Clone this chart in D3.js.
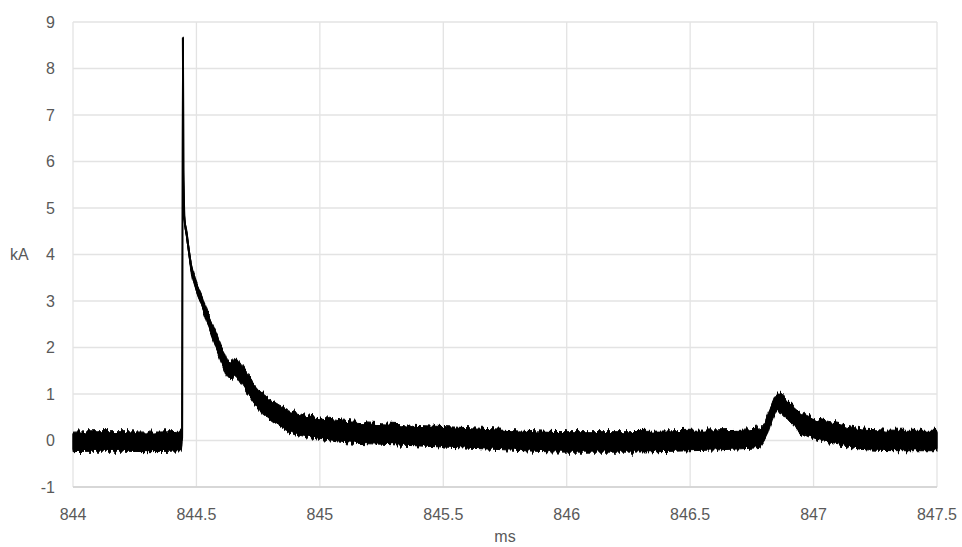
<!DOCTYPE html>
<html>
<head>
<meta charset="utf-8">
<script src="https://cdn.jsdelivr.net/npm/d3@7"></script>
<style>
    body { margin: 0; background: #ffffff; }
    .tick-label { font-family: "Liberation Sans", Arial, sans-serif; font-size: 16px; fill: #595959; }
    .axis-title { font-family: "Liberation Sans", Arial, sans-serif; font-size: 16px; fill: #595959; }
    .grid line { stroke: #e3e3e3; stroke-width: 1.3; }
    .band { fill: #000000; stroke: #000000; stroke-width: 1; stroke-linejoin: round; }
    .core { fill: #000000; stroke: #000000; stroke-width: 1; }
    .trace { fill: none; stroke: #000000; stroke-width: 2; }
</style>
</head>
<body>
<div id="chart"></div>
<script>
// Size of the SVG element
let width = 962;
let height = 547;

let margin = { top: 22, right: 25, bottom: 60, left: 73 };

// Time in ms
let timeMs = [
    844.000, 844.100, 844.200, 844.300, 844.400, 844.438, 844.442,
    844.445, 844.448, 844.452, 844.460, 844.481, 844.500, 844.521,
    844.548, 844.570, 844.589, 844.610, 844.629, 844.645, 844.656,
    844.675, 844.697, 844.725, 844.751, 844.785, 844.818, 844.850,
    844.886, 844.953, 845.020, 845.088, 845.250, 845.500, 845.750,
    846.000, 846.250, 846.500, 846.700, 846.780, 846.805, 846.830,
    846.851, 846.870, 846.891, 846.920, 846.945, 846.980, 847.013,
    847.060, 847.107, 847.160, 847.215, 847.350, 847.500
];

// Middle of the noisy trace, kA
let currentKA = [
    -0.03, -0.02, -0.02, -0.03, -0.02, -0.01, 0.05,
    8.66, 5.60, 4.75, 4.45, 3.67, 3.30, 3.02,
    2.59, 2.28, 2.02, 1.74, 1.52, 1.50, 1.60,
    1.48, 1.30, 1.06, 0.88, 0.72, 0.59, 0.49,
    0.40, 0.30, 0.24, 0.19, 0.14, 0.08, 0.02,
    -0.03, -0.03, 0.00, 0.03, 0.06, 0.22, 0.60,
    0.82, 0.80, 0.68, 0.52, 0.40, 0.30, 0.23,
    0.17, 0.12, 0.06, 0.02, 0.00, 0.00
];

// Half thickness of the noise band, kA
let noiseKA = [
    0.21, 0.21, 0.21, 0.21, 0.21, 0.21, 0.02,
    0.00, 0.01, 0.07, 0.08, 0.10, 0.11, 0.12,
    0.13, 0.15, 0.16, 0.18, 0.19, 0.19, 0.19,
    0.20, 0.20, 0.21, 0.22, 0.22, 0.23, 0.23,
    0.23, 0.23, 0.23, 0.23, 0.22, 0.22, 0.22,
    0.22, 0.22, 0.22, 0.21, 0.21, 0.19, 0.18,
    0.18, 0.19, 0.20, 0.21, 0.22, 0.22, 0.22,
    0.22, 0.22, 0.22, 0.22, 0.22, 0.22
];

// Tick labels
let xTicks = [844, 844.5, 845, 845.5, 846, 846.5, 847, 847.5];
let yTicks = [-1, 0, 1, 2, 3, 4, 5, 6, 7, 8, 9];

let dataset = timeMs.map(function (t, i) {
    return { t: t, v: currentKA[i], n: noiseKA[i] };
});

let svg = d3.select("#chart")
    .append("svg")
    .attr("width", width)
    .attr("height", height);

// Rough edge filter so the band looks like a noisy trace
let defs = svg.append("defs");

let filter = defs.append("filter")
    .attr("id", "rough")
    .attr("filterUnits", "userSpaceOnUse")
    .attr("x", 0)
    .attr("y", 0)
    .attr("width", width)
    .attr("height", height);

filter.append("feTurbulence")
    .attr("type", "fractalNoise")
    .attr("baseFrequency", "0.35 0.02")
    .attr("numOctaves", 2)
    .attr("seed", 3)
    .attr("result", "noise");

filter.append("feColorMatrix")
    .attr("in", "noise")
    .attr("type", "matrix")
    .attr("values", "1 0 0 0 0  0 0 0 0 0.5  0 0 0 0 0  0 0 0 0 1")
    .attr("result", "ymap");

filter.append("feDisplacementMap")
    .attr("in", "SourceGraphic")
    .attr("in2", "ymap")
    .attr("scale", 11)
    .attr("xChannelSelector", "G")
    .attr("yChannelSelector", "R")
    .attr("result", "moved");

filter.append("feGaussianBlur")
    .attr("in", "moved")
    .attr("stdDeviation", 0.5);

let xScale = d3.scaleLinear()
    .domain([844, 847.5])
    .range([margin.left, width - margin.right]);

let yScale = d3.scaleLinear()
    .domain([-1, 9])
    .range([height - margin.bottom, margin.top]);

// Gridlines
svg.append("g")
    .attr("class", "grid")
    .selectAll("line.h")
    .data(yTicks)
    .enter()
    .append("line")
    .attr("x1", margin.left)
    .attr("x2", width - margin.right)
    .attr("y1", function (d) { return yScale(d); })
    .attr("y2", function (d) { return yScale(d); });

svg.append("g")
    .attr("class", "grid")
    .selectAll("line.v")
    .data(xTicks)
    .enter()
    .append("line")
    .attr("x1", function (d) { return xScale(d); })
    .attr("x2", function (d) { return xScale(d); })
    .attr("y1", margin.top)
    .attr("y2", height - margin.bottom);

// Bottom axis line
svg.append("line")
    .attr("x1", margin.left)
    .attr("x2", width - margin.right)
    .attr("y1", yScale(-1))
    .attr("y2", yScale(-1))
    .attr("stroke", "#d0d0d0")
    .attr("stroke-width", 1.3);

// Noise band (rough edges), solid core and centre trace
let band = d3.area()
    .x(function (d) { return xScale(d.t); })
    .y0(function (d) { return yScale(d.v - d.n); })
    .y1(function (d) { return yScale(d.v + d.n); })
    .curve(d3.curveMonotoneX);

let core = d3.area()
    .x(function (d) { return xScale(d.t); })
    .y0(function (d) { return yScale(d.v - d.n * 0.8); })
    .y1(function (d) { return yScale(d.v + d.n * 0.8); })
    .curve(d3.curveMonotoneX);

let trace = d3.line()
    .x(function (d) { return xScale(d.t); })
    .y(function (d) { return yScale(d.v); })
    .curve(d3.curveMonotoneX);

svg.append("path")
    .datum(dataset)
    .attr("class", "band")
    .attr("filter", "url(#rough)")
    .attr("d", band);

svg.append("path")
    .datum(dataset)
    .attr("class", "core")
    .attr("d", core);

svg.append("path")
    .datum(dataset)
    .attr("class", "trace")
    .attr("d", trace);

// Tick labels
svg.append("g")
    .selectAll("text")
    .data(yTicks)
    .enter()
    .append("text")
    .attr("class", "tick-label")
    .attr("x", 55)
    .attr("y", function (d) { return yScale(d); })
    .attr("dy", "0.35em")
    .attr("text-anchor", "end")
    .text(function (d) { return d; });

svg.append("g")
    .selectAll("text")
    .data(xTicks)
    .enter()
    .append("text")
    .attr("class", "tick-label")
    .attr("x", function (d) { return xScale(d); })
    .attr("y", 520)
    .attr("text-anchor", "middle")
    .text(function (d) { return d; });

// Axis titles
svg.append("text")
    .attr("class", "axis-title")
    .attr("x", 10)
    .attr("y", yScale(4))
    .attr("dy", "0.35em")
    .text("kA");

svg.append("text")
    .attr("class", "axis-title")
    .attr("x", xScale(845.75))
    .attr("y", 542)
    .attr("text-anchor", "middle")
    .text("ms");
</script>
</body>
</html>
